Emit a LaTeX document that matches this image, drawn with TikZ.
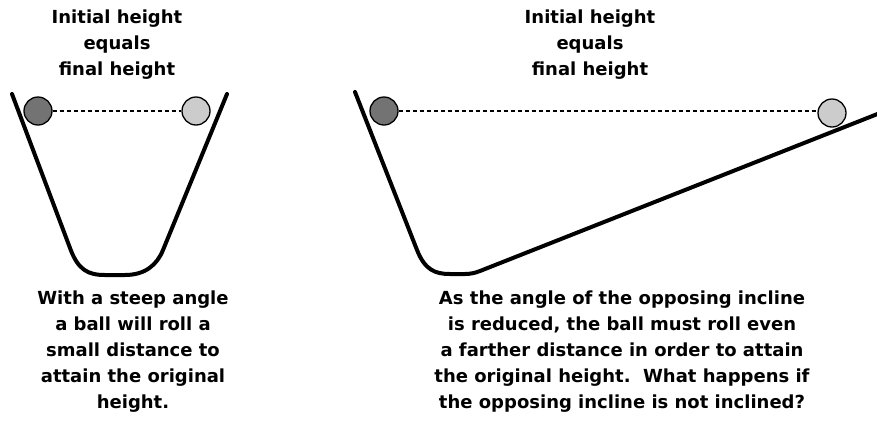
\documentclass[tikz,border=0pt]{standalone}
\usepackage{fontspec}
\setmainfont{DejaVu Sans}
\begin{document}
\begin{tikzpicture}[x=1pt,y=-1pt,
  track/.style={line width=4pt,line join=round,line cap=round},
  ball/.style={circle,draw,line width=1.3pt,minimum size=28pt,inner sep=0pt},
  darkball/.style={ball,fill=black!55},
  lightball/.style={ball,fill=black!20},
  level/.style={line width=1.2pt,dash pattern=on 4pt off 3pt},
  caption/.style={align=center,font=\fontsize{18}{26}\selectfont\bfseries}]
\useasboundingbox (0,0) rectangle (877,426);
% left bowl
\draw[track] (12,94) -- (70,248) .. controls (78,270) and (88,275) .. (105,275) -- (125,275) .. controls (145,275) and (157,265) .. (163,250) -- (227,94);
% right track
\draw[track] (355,92) -- (417,250) .. controls (425,270) and (435,274) .. (450,274) -- (465,274) .. controls (470,274) and (475,273) .. (480,271) -- (880,113);
% balls
\node[darkball] (b1) at (38,111) {};
\node[lightball] (b2) at (196,111) {};
\node[darkball] (b3) at (384,111) {};
\node[lightball] (b4) at (832,113) {};
\draw[level] (b1.east) -- (b2.west);
\draw[level] (b3.east) -- (b3.east -| b4.west);
% texts
\node[caption] (t1) at (117,45) {Initial height\\equals\\final height};
\node[caption] (t2) at (590,45) {Initial height\\equals\\final height};
\node[caption] (t3) at (133,352) {With a steep angle\\a ball will roll a\\small distance to\\attain the original\\height.};
\node[caption] (t4) at (622,352) {As the angle of the opposing incline\\is reduced, the ball must roll even\\a farther distance in order to attain\\the original height.\ \ What happens if\\the opposing incline is not inclined?};
\end{tikzpicture}
\end{document}
